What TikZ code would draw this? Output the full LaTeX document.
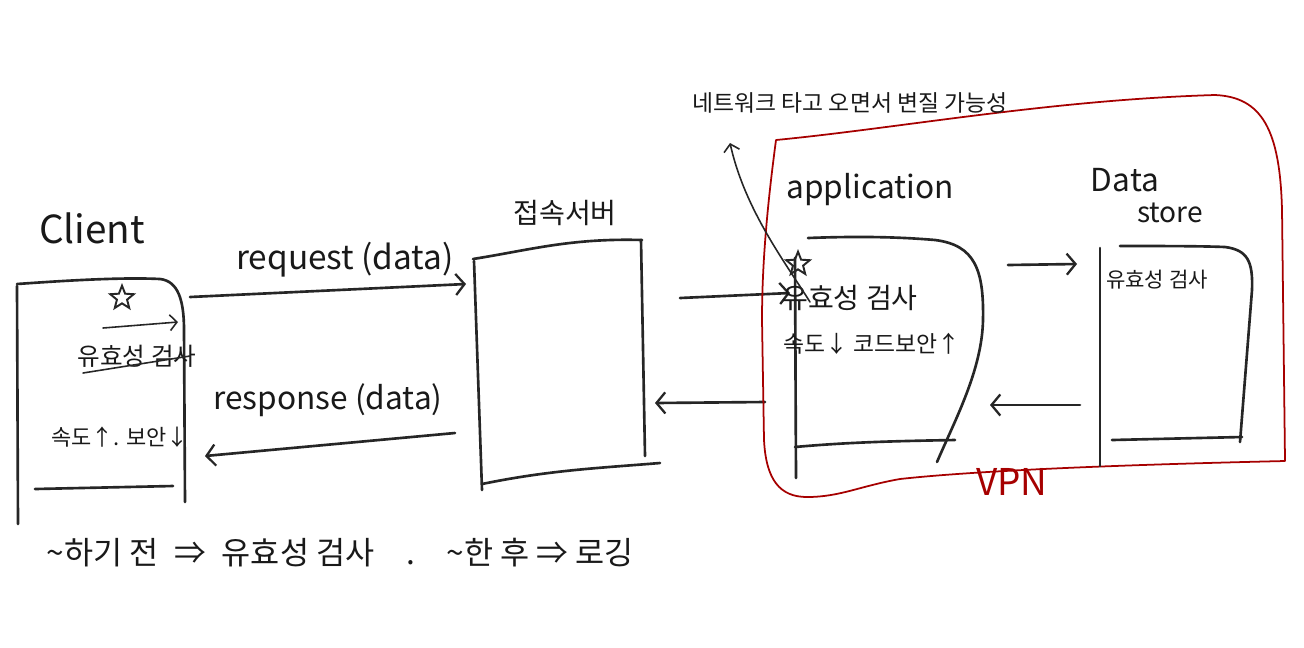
\documentclass[tikz,border=0pt]{standalone}
\usepackage{fontspec}
\setmainfont{Noto Sans CJK KR}
\usetikzlibrary{arrows.meta,shapes.geometric}
\begin{document}
\begin{tikzpicture}[x=0.02cm,y=-0.02cm,
  ink/.style={line width=1.5pt,draw=black!85,line cap=round,line join=round},
  thinink/.style={line width=0.9pt,draw=black!85,line cap=round,line join=round},
  arr/.style={ink,-{Straight Barb[length=5pt,width=12pt,line width=1.3pt]}},
  thinarr/.style={thinink,-{Straight Barb[length=4pt,width=9pt,line width=0.9pt]}},
  vpnline/.style={line width=1pt,draw=red!65!black,line join=round},
  txt/.style={inner sep=0pt,text=black!90},
  starmark/.style={star,star points=5,star point ratio=2.3,draw=black!85,line width=1.1pt,minimum size=14pt,inner sep=0pt}
  ]
\useasboundingbox (0,0) rectangle (1304,647);
\fill[white] (0,0) rectangle (1304,647);

% ---------- Client ----------
\node[txt,font=\fontsize{22}{24}\selectfont] (clientlbl) at (92,228) {Client};
\draw[ink] (17,284) .. controls (60,281) and (120,277) .. (160,279) .. controls (178,281) and (184,300) .. (184,330) -- (185,502);
\draw[ink] (17,286) -- (18,524);
\draw[ink] (35,489) -- (173,486);
\node[starmark] (cstar) at (122,298) {};
\coordinate (cas) at (103,328);
\coordinate (cae) at (178,322);
\draw[thinarr] (cas) -- (cae);
\node[txt,font=\fontsize{14}{16}\selectfont] (cvalid) at (137,356) {유효성 검사};
\coordinate (cstrA) at (83,373);
\coordinate (cstrB) at (190,356);
\draw[thinink] (cstrA) -- (cstrB);
\node[txt,font=\fontsize{12.5}{15}\selectfont] (cspeed) at (120,437) {속도↑. 보안↓};

% ---------- request / response ----------
\node[txt,font=\fontsize{19}{21}\selectfont] (reqlbl) at (345,260) {request (data)};
\coordinate (reqS) at (190,297);
\coordinate (reqE) at (466,284);
\draw[arr] (reqS) -- (reqE);
\node[txt,font=\fontsize{18}{20}\selectfont] (reslbl) at (328,400) {response (data)};
\coordinate (resS) at (455,433);
\coordinate (resE) at (205,456);
\draw[arr] (resS) -- (resE);

% ---------- 접속서버 ----------
\node[txt,font=\fontsize{16}{18}\selectfont] (srvlbl) at (565,213) {접속서버};
\draw[ink] (473,259) .. controls (530,250) and (570,238) .. (642,240);
\draw[ink] (474,261) -- (482,490);
\draw[ink] (641,240) -- (645,456);
\draw[ink] (482,484) .. controls (550,470) and (600,468) .. (660,463);

% ---------- server <-> application ----------
\coordinate (s2aS) at (680,298);
\coordinate (s2aE) at (790,293);
\draw[arr] (s2aS) -- (s2aE);
\coordinate (a2sS) at (765,402);
\coordinate (a2sE) at (655,403);
\draw[arr] (a2sS) -- (a2sE);

% ---------- VPN ----------
\draw[vpnline] (776,140) .. controls (768,200) and (762,260) .. (762,320) -- (764,440)
  .. controls (766,480) and (780,497) .. (807,497) .. controls (840,497) and (860,486) .. (900,479)
  .. controls (1000,468) and (1200,463) .. (1285,461) -- (1282,210)
  .. controls (1280,130) and (1262,97) .. (1215,95) .. controls (1050,100) and (900,128) .. cycle;
\node[txt,text=red!65!black,font=\fontsize{21}{23}\selectfont] (vpnlbl) at (1012,482) {VPN};

% ---------- application ----------
\node[txt,font=\fontsize{18}{20}\selectfont] (applbl) at (870,190) {application};
\draw[ink] (808,238) .. controls (860,236) and (900,237) .. (935,240) .. controls (975,245) and (984,270) .. (983,320) .. controls (982,370) and (955,420) .. (937,462);
\draw[ink] (795,258) -- (796,478);
\draw[ink] (795,447) .. controls (850,442) and (900,441) .. (955,440);
\node[starmark] (astar) at (798,264) {};
\node[txt,font=\fontsize{16}{18}\selectfont] (avalid) at (850,298) {유효성 검사};
\node[txt,font=\fontsize{13}{15}\selectfont] (aspeed) at (872,344) {속도↓ 코드보안↑};

% ---------- note ----------
\node[txt,font=\fontsize{13}{15}\selectfont] (note) at (850,103) {네트워크 타고 오면서 변질 가능성};
\coordinate (noteS) at (810,302);
\coordinate (noteE) at (730,143);
\draw[thinarr] (noteS) .. controls (785,262) and (745,210) .. (noteE);

% ---------- application <-> data store ----------
\coordinate (a2dS) at (1008,265);
\coordinate (a2dE) at (1077,264);
\draw[arr] (a2dS) -- (a2dE);
\coordinate (d2aS) at (1080,405);
\coordinate (d2aE) at (990,405);
\draw[arr] (d2aS) -- (d2aE);

% ---------- Data store ----------
\node[txt,font=\fontsize{18}{20}\selectfont] (datalbl) at (1125,180) {Data};
\node[txt,font=\fontsize{16}{18}\selectfont] (storelbl) at (1170,213) {store};
\draw[ink] (1120,246) .. controls (1160,246) and (1200,246) .. (1225,247) .. controls (1248,250) and (1253,262) .. (1252,290) -- (1240,442);
\draw[ink] (1100,248) -- (1100,466);
\draw[ink] (1112,440) -- (1242,437);
\node[txt,font=\fontsize{12}{14}\selectfont] (dvalid) at (1157,280) {유효성 검사};

% ---------- bottom note ----------
\node[txt,font=\fontsize{18}{20}\selectfont] (bottom) at (340,553) {\textasciitilde 하기 전\enspace⇒\enspace 유효성 검사\quad .\quad\textasciitilde 한 후 ⇒ 로깅};
\end{tikzpicture}
\end{document}
